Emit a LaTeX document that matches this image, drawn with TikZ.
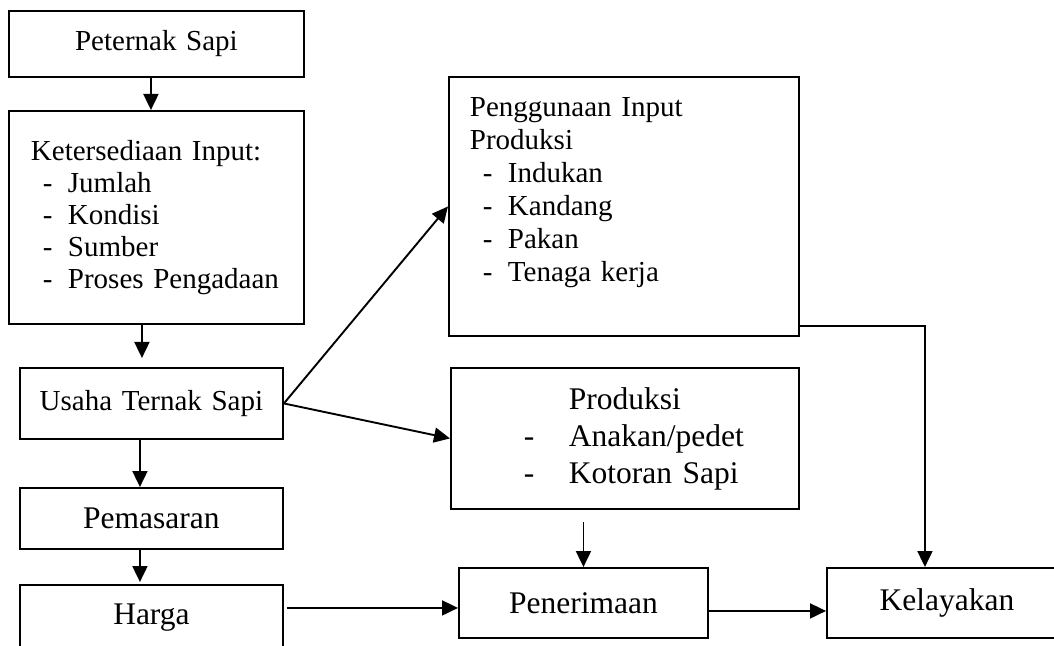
\documentclass[tikz,border=0pt]{standalone}
\usepackage{fontspec}
\setmainfont{Liberation Serif}
\usetikzlibrary{arrows.meta}
\newcommand{\butir}[1]{\hspace*{17pt}\makebox[12.5pt][l]{-}#1}
\begin{document}
\begin{tikzpicture}[x=0.5pt, y=-0.5pt,
  kotak/.style={draw, line width=0.95pt, inner sep=0pt, anchor=north west},
  kecil/.style={font=\fontsize{14.5}{16}\selectfont},
  besar/.style={font=\fontsize{15.75}{18.5}\selectfont},
  panah/.style={line width=0.95pt, -{Triangle[length=8pt,width=7.5pt]}}]
\useasboundingbox (0,0) rectangle (1054,646);
\clip (0,0) rectangle (1054,646);
% kolom kiri
\node[kotak, kecil, align=center, text width=147.5pt, minimum height=33pt] (peternak) at (8,10) {Peternak Sapi};
\node[kotak, kecil, align=left, text width=147.5pt, minimum height=106.5pt] (sedia) at (8,110)
  {\hspace*{11pt}Ketersediaan Input:\\ \butir{Jumlah}\\ \butir{Kondisi}\\ \butir{Sumber}\\ \butir{Proses Pengadaan}};
\node[kotak, kecil, align=center, text width=131.5pt, minimum height=35.5pt] (usaha) at (19,367) {Usaha Ternak Sapi};
\node[kotak, besar, align=center, text width=131.5pt, minimum height=30.5pt] (pemasaran) at (19,487) {Pemasaran};
\node[kotak, besar, align=center, text width=131.5pt, minimum height=33pt] (harga) at (19,584) {Harga};
% kolom tengah
\node[kotak, font=\fontsize{14.5}{16.5}\selectfont, align=left, text width=175pt, minimum height=129.5pt] (guna) at (448,76)
  {\hspace*{10.5pt}Penggunaan Input\\ \hspace*{10.5pt}Produksi\\ \butir{Indukan}\\ \butir{Kandang}\\ \butir{Pakan}\\ \butir{Tenaga kerja}\\ \mbox{}};
\node[kotak, besar, align=left, text width=174pt, minimum height=70.5pt] (produksi) at (450,367)
  {\hspace*{59pt}Produksi\\ \hspace*{36.5pt}\makebox[22.5pt][l]{-}Anakan/pedet\\ \hspace*{36.5pt}\makebox[22.5pt][l]{-}Kotoran Sapi};
\node[kotak, besar, align=center, text width=124.5pt, minimum height=35pt] (terima) at (458,567) {Penerimaan};
% kolom kanan
\node[kotak, besar, align=center, text width=120pt, minimum height=35pt] (layak) at (826,567) {Kelayakan};
% panah
\draw[panah] ([xshift=-2.75pt]peternak.south) -- ([xshift=-2.75pt]sedia.north);
\draw[panah, shorten >=4.5pt] ([xshift=-7.25pt]sedia.south) -- ([xshift=-7.25pt]sedia.south |- usaha.north);
\draw[panah] ([xshift=-5.75pt]usaha.south) -- ([xshift=-5.75pt]pemasaran.north);
\draw[panah, shorten >=1pt] ([xshift=-5.75pt]pemasaran.south) -- ([xshift=-5.75pt]harga.north);
\draw[panah] (usaha.east) -- (guna.west);
\draw[panah] (usaha.east) -- (produksi.west);
\coordinate (masuk) at ([yshift=-2.5pt]terima.west);
\draw[panah] ([xshift=1.5pt]masuk -| harga.east) -- (masuk);
\draw[panah, shorten <=6pt] (produksi.south -| terima.north) -- (terima.north);
\draw[panah] ([yshift=-4pt]terima.east) -- ([yshift=-4pt]layak.west);
\draw[panah] ([yshift=5.5pt]guna.south east) -| ([xshift=-11pt]layak.north);
\end{tikzpicture}
\end{document}
